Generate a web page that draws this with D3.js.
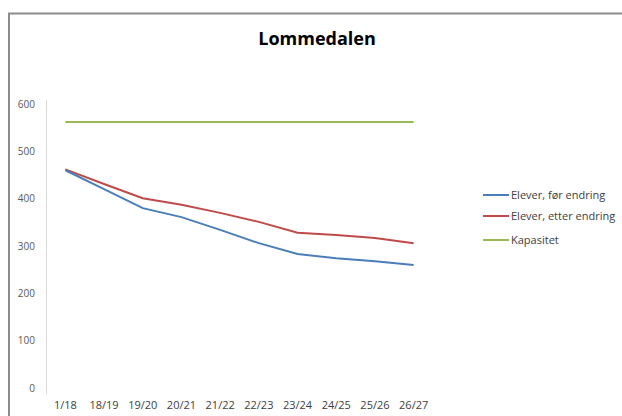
<!DOCTYPE html>
<html>
<head>
<meta charset="utf-8">
<script src="https://cdn.jsdelivr.net/npm/d3@7"></script>
<style>
  body { margin: 0; background: #fff; }
  svg { display: block; font-family: "Open Sans", "DejaVu Sans", sans-serif; }
</style>
</head>
<body>
<svg width="622" height="416"></svg>
<script>
// chart data
var categories = ["1/18", "18/19", "19/20", "20/21", "21/22", "22/23", "23/24", "24/25", "25/26", "26/27"];
var foerEndring = [460, 420, 380, 361, 334, 306, 283, 274, 268, 260];
var etterEndring = [462, 431, 401, 387, 370, 351, 328, 323, 317, 306];
var kapasitet = [562, 562, 562, 562, 562, 562, 562, 562, 562, 562];
var yTicks = [0, 100, 200, 300, 400, 500, 600];

var seriesNames = ["Elever, før endring", "Elever, etter endring", "Kapasitet"];
var seriesColors = ["#4a7ebb", "#be4b48", "#98b954"];

var series = [foerEndring, etterEndring, kapasitet].map(function(vals, i) {
  return { name: seriesNames[i], color: seriesColors[i], values: vals };
});

var svg = d3.select("svg");

// outer frame (the chart box is cropped on the right/bottom)
svg.append("path")
  .attr("d", "M9,416 V13.5 H622")
  .attr("fill", "none")
  .attr("stroke", "#8c8c8c")
  .attr("stroke-width", 2);

var x = d3.scaleBand().domain(categories).range([46, 433]);
var y = d3.scaleLinear().domain([0, 600]).range([388, 104]);

// y axis line
svg.append("line")
  .attr("x1", 46.5).attr("x2", 46.5)
  .attr("y1", 100).attr("y2", 394)
  .attr("stroke", "#d9d9d9");

// y tick labels
svg.append("g").selectAll("text")
  .data(yTicks)
  .enter().append("text")
    .attr("x", 35)
    .attr("y", function(d) { return y(d); })
    .attr("dy", "0.35em")
    .attr("text-anchor", "end")
    .attr("font-size", 10)
    .attr("fill", "#595959")
    .text(function(d) { return d; });

// x tick labels
svg.append("g").selectAll("text")
  .data(categories)
  .enter().append("text")
    .attr("x", function(d) { return x(d) + x.bandwidth() / 2; })
    .attr("y", 409)
    .attr("text-anchor", "middle")
    .attr("font-size", 11)
    .attr("fill", "#404040")
    .text(function(d) { return d; });

var line = d3.line()
  .x(function(d, i) { return x(categories[i]) + x.bandwidth() / 2; })
  .y(function(d) { return y(d); });

// draw kapasitet first, then the two pupil lines on top
svg.append("g").selectAll("path")
  .data(series.slice().reverse())
  .enter().append("path")
    .attr("fill", "none")
    .attr("stroke", function(d) { return d.color; })
    .attr("stroke-width", 2)
    .attr("d", function(d) { return line(d.values); });

// title
svg.append("text")
  .attr("x", 317)
  .attr("y", 45)
  .attr("text-anchor", "middle")
  .attr("font-size", 18)
  .attr("font-weight", "bold")
  .attr("fill", "#000")
  .text("Lommedalen");

// legend
var legend = svg.append("g").selectAll("g")
  .data(series)
  .enter().append("g")
    .attr("transform", function(d, i) { return "translate(483," + [195, 216, 240][i] + ")"; });

legend.append("line")
  .attr("x1", 0).attr("x2", 26)
  .attr("stroke", function(d) { return d.color; })
  .attr("stroke-width", 2);

legend.append("text")
  .attr("x", 28)
  .attr("dy", "0.35em")
  .attr("font-size", 11)
  .attr("fill", "#404040")
  .text(function(d) { return d.name; });
</script>
</body>
</html>
